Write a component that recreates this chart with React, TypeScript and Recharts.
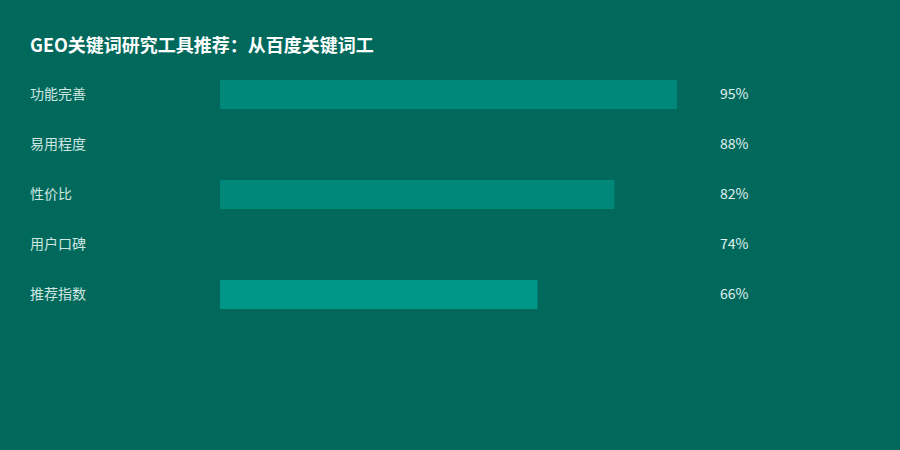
import { BarChart, Bar, XAxis, YAxis, Cell, LabelList } from "recharts";

const categories = ["功能完善", "易用程度", "性价比", "用户口碑", "推荐指数"];
const scores = [95, 88, 82, 74, 66];
const barColors = ["#00897B", "#00695C", "#00897B", "#00695C", "#009688"];

const data = categories.map((name, i) => ({ name, score: scores[i] }));

const FONT = "'Noto Sans CJK SC', 'Noto Sans', sans-serif";

const CategoryTick = (props: any) => {
  const { y, payload } = props;
  return (
    <text x={30} y={y} dy={4.5} fill="#cfe6e1" fontSize={14} fontFamily={FONT} textAnchor="start">
      {payload.value}
    </text>
  );
};

const ValueLabel = (props: any) => {
  const { y, height, value } = props;
  return (
    <text x={720} y={y + height / 2} dy={4.5} fill="#e0f2f1" fontSize={14} fontFamily={FONT} textAnchor="start">
      {value}%
    </text>
  );
};

export default function App() {
  return (
    <div style={{ position: "relative", width: 900, height: 450, background: "#00695C" }}>
      <style>{"body{margin:0}"}</style>
      <div
        style={{
          position: "absolute",
          left: 30,
          top: 34,
          fontFamily: FONT,
          fontSize: 18,
          lineHeight: "20px",
          fontWeight: 700,
          color: "#ffffff",
        }}
      >
        GEO关键词研究工具推荐：从百度关键词工
      </div>
      <BarChart
        width={900}
        height={450}
        data={data}
        layout="vertical"
        margin={{ top: 69, right: 199, bottom: 131, left: 30 }}
        barCategoryGap={21}
      >
        <XAxis type="number" domain={[0, 100]} hide />
        <YAxis
          type="category"
          dataKey="name"
          width={190}
          axisLine={false}
          tickLine={false}
          tick={<CategoryTick />}
        />
        <Bar dataKey="score" barSize={29} isAnimationActive={false}>
          {data.map((d, i) => (
            <Cell key={d.name} fill={barColors[i]} />
          ))}
          <LabelList dataKey="score" content={<ValueLabel />} />
        </Bar>
      </BarChart>
    </div>
  );
}
